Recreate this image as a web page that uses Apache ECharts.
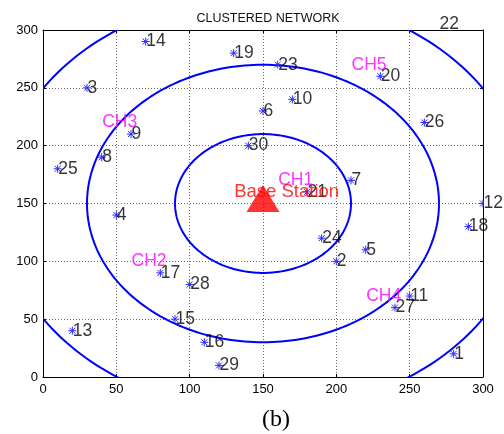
<!DOCTYPE html>
<html>
<head>
<meta charset="utf-8">
<script src="https://cdn.jsdelivr.net/npm/echarts@6/dist/echarts.min.js"></script>
<style>
  html, body { margin: 0; padding: 0; background: #fff; }
  #chart { width: 504px; height: 434px; }
</style>
</head>
<body>
<div id="chart"></div>
<script>
// Sensor nodes (id, x, y) in the 300 x 300 field
const nodeIds = [1, 2, 3, 4, 5, 6, 7, 8, 9, 10, 11, 12, 13, 14, 15,
                 16, 17, 18, 19, 20, 21, 22, 23, 24, 25, 26, 27, 28, 29, 30];
const nodeX = [280, 200, 30, 50, 220, 150, 210, 40, 60, 170, 250, 300, 20, 70, 90,
               110, 80, 290, 130, 230, 180, 270, 160, 190, 10, 260, 240, 100, 120, 140];
const nodeY = [20, 100, 250, 140, 110, 230, 170, 190, 210, 240, 70, 150, 40, 290, 50,
               30, 90, 130, 280, 260, 160, 305, 270, 120, 180, 220, 60, 80, 10, 200];

// Cluster-head captions and where they are written
const headNames = ['CH1', 'CH2', 'CH3', 'CH4', 'CH5'];
const headX = [160, 60, 40, 220, 210];
const headY = [170, 100, 220, 70, 270];

// Base station and its coverage rings
const baseStationName = 'Base Station';
const baseStation = [150, 150];
const baseLabelPos = [130, 160];
const ringRadii = [60, 120, 180];

// Axis ticks
const axisMin = 0, axisMax = 300, axisStep = 50;

const FONT = '"Liberation Sans", Arial, sans-serif';

const chart = echarts.init(document.getElementById('chart'), null, { renderer: 'canvas' });

const valueAxis = (pos, showLabels) => ({
  type: 'value',
  position: pos,
  min: axisMin, max: axisMax, interval: axisStep,
  axisLine: { show: true, onZero: false, lineStyle: { color: '#000', width: 1 } },
  axisTick: { show: true, inside: true, length: 3, lineStyle: { color: '#000' } },
  axisLabel: {
    show: showLabels, color: '#000', fontFamily: FONT, fontSize: 13,
    margin: (pos === 'bottom') ? 6 : 5
  },
  splitLine: showLabels
    ? { show: true, lineStyle: { color: '#6b6b6b', width: 1, type: [1, 2] } }
    : { show: false }
});

const ringData = ringRadii.map(r => [baseStation[0], baseStation[1], r]);
const starData = nodeX.map((x, i) => [x, nodeY[i]]);
const labelData = nodeX.map((x, i) => ({ value: [x, nodeY[i]], name: String(nodeIds[i]) }));
const headData = headNames.map((n, i) => ({ value: [headX[i], headY[i]], name: n }));

chart.setOption({
  animation: false,
  backgroundColor: '#fff',
  title: {
    text: 'CLUSTERED NETWORK',
    left: 263, top: 7, textAlign: 'center',
    textStyle: { fontFamily: FONT, fontSize: 12.5, fontWeight: 'normal', color: '#111' }
  },
  grid: { left: 43, top: 30, width: 440, height: 347, containLabel: false },
  xAxis: [valueAxis('bottom', true), valueAxis('top', false)],
  yAxis: [valueAxis('left', true), valueAxis('right', false)],
  graphic: [{
    type: 'text', left: 262, top: 408,
    style: { text: '(b)', fontFamily: '"Liberation Serif", "Times New Roman", serif', fontSize: 24, fill: '#000', textAlign: 'center' }
  }],
  series: [
    {
      // coverage rings around the base station
      type: 'custom',
      data: ringData,
      z: 2,
      renderItem(params, api) {
        const c = api.coord([api.value(0), api.value(1)]);
        const s = api.size([api.value(2), api.value(2)]);
        const pts = [];
        const n = 240;
        for (let k = 0; k <= n; k++) {
          const t = (k / n) * Math.PI * 2;
          pts.push([c[0] + s[0] * Math.cos(t), c[1] - s[1] * Math.sin(t)]);
        }
        const cs = params.coordSys;
        return {
          type: 'group',
          clipPath: { type: 'rect', shape: { x: cs.x, y: cs.y, width: cs.width, height: cs.height } },
          children: [{
            type: 'polyline', shape: { points: pts },
            style: { stroke: '#0000ff', lineWidth: 2, fill: null }
          }]
        };
      }
    },
    {
      // node markers (asterisks)
      type: 'custom',
      data: starData,
      z: 3,
      renderItem(params, api) {
        const p = api.coord([api.value(0), api.value(1)]);
        const cs = params.coordSys;
        const r = 4, d = 3;
        const st = { stroke: '#2a2aff', lineWidth: 1 };
        const seg = (x1, y1, x2, y2) => ({ type: 'line', shape: { x1, y1, x2, y2 }, style: st });
        return {
          type: 'group',
          clipPath: { type: 'rect', shape: { x: cs.x - 1, y: cs.y - 1, width: cs.width + 2, height: cs.height + 2 } },
          children: [
            seg(p[0] - r, p[1], p[0] + r, p[1]),
            seg(p[0], p[1] - r, p[0], p[1] + r),
            seg(p[0] - d, p[1] - d, p[0] + d, p[1] + d),
            seg(p[0] - d, p[1] + d, p[0] + d, p[1] - d)
          ]
        };
      }
    },
    {
      // node numbers
      type: 'scatter',
      data: labelData,
      clip: false,
      z: 4,
      symbolSize: 1,
      itemStyle: { color: 'rgba(0,0,0,0)' },
      label: {
        show: true, position: 'right', distance: 0,
        formatter: p => p.name,
        color: '#000', fontFamily: FONT, fontSize: 17.5
      }
    },
    {
      // base station
      type: 'scatter',
      data: [baseStation],
      z: 5,
      symbol: 'triangle',
      symbolSize: [33, 27],
      symbolOffset: [0, -5],
      itemStyle: { color: '#ff0000' }
    },
    {
      // cluster-head captions
      type: 'scatter',
      data: headData,
      clip: false,
      z: 6,
      symbolSize: 1,
      itemStyle: { color: 'rgba(0,0,0,0)' },
      label: {
        show: true, position: 'right', distance: 0,
        formatter: p => p.name,
        color: '#ff00ff', fontFamily: FONT, fontSize: 17.5
      }
    },
    {
      // base station caption
      type: 'scatter',
      data: [{ value: baseLabelPos, name: baseStationName }],
      clip: false,
      z: 6,
      symbolSize: 1,
      itemStyle: { color: 'rgba(0,0,0,0)' },
      label: {
        show: true, position: 'right', distance: 0,
        formatter: p => p.name,
        color: '#ff0000', fontFamily: FONT, fontSize: 18.5
      }
    }
  ]
});
</script>
</body>
</html>
